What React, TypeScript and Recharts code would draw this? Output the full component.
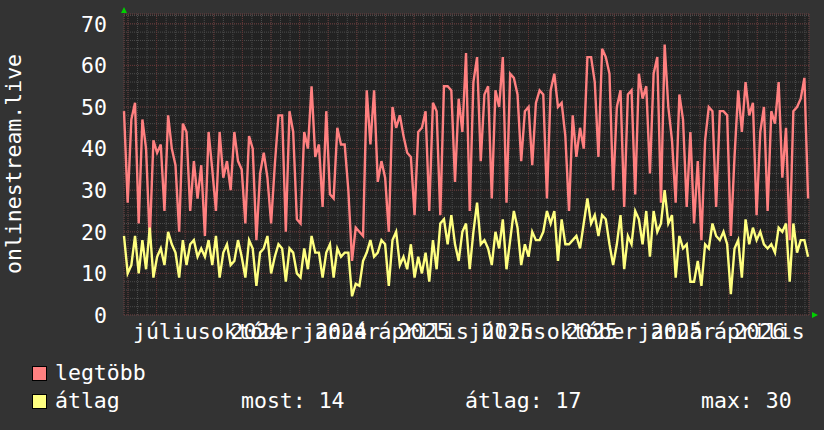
import React from 'react';
import { LineChart, Line, XAxis, YAxis, CartesianGrid } from 'recharts';

// one sample every 4 days, day 0 = left edge of the graph
const STEP_DAYS = 4;
const LAST_DAY = 745;

const legtobb = [
  49, 27, 47, 51, 22, 47, 40, 18, 42, 39, 41, 25, 48, 40, 36, 20, 46, 44, 25, 37,
  28, 36, 19, 44, 35, 25, 44, 33, 37, 30, 44, 37, 35, 22, 43, 40, 18, 34, 39, 33,
  22, 36, 48, 48, 20, 49, 44, 23, 22, 44, 40, 55, 38, 41, 26, 49, 29, 28, 45, 41,
  41, 30, 13, 21, 20, 19, 54, 41, 54, 32, 37, 33, 20, 50, 45, 48, 43, 39, 38, 24,
  44, 45, 49, 25, 51, 49, 24, 55, 55, 54, 32, 52, 44, 63, 25, 56, 62, 37, 53, 55,
  28, 54, 50, 62, 27, 58, 57, 53, 37, 49, 50, 36, 51, 54, 53, 28, 54, 58, 50, 51,
  43, 25, 48, 38, 45, 40, 62, 62, 56, 38, 64, 62, 58, 30, 50, 54, 26, 53, 54, 29,
  58, 52, 55, 34, 58, 62, 27, 65, 50, 42, 27, 53, 47, 26, 44, 22, 37, 18, 42, 50,
  49, 26, 49, 49, 48, 19, 38, 54, 44, 56, 48, 51, 24, 44, 50, 25, 49, 46, 56, 33,
  45, 18, 49, 50, 52, 57, 28,
];

const atlag = [
  19, 10, 12, 19, 10, 18, 11, 21, 9, 14, 16, 12, 20, 17, 15, 9, 18, 12, 17, 18,
  14, 16, 14, 18, 12, 19, 9, 15, 17, 12, 13, 18, 14, 9, 18, 16, 7, 15, 16, 19,
  10, 14, 17, 16, 8, 16, 15, 10, 9, 16, 11, 19, 15, 15, 9, 15, 17, 9, 16, 14,
  15, 15, 4.5, 7.5, 7, 13, 15, 18, 14, 15, 18, 17, 7, 18, 20, 12, 14, 11, 17, 9,
  14, 10, 15, 8, 18, 11, 22, 23, 17, 24, 17, 13, 20, 22, 11, 20, 27, 17, 18, 16,
  12, 20, 16, 23, 11, 18, 25, 21, 12, 17, 14, 20, 18, 18, 20, 25, 22, 25, 13, 23,
  17, 17, 18, 19, 16, 22, 28, 22, 24, 19, 24, 23, 17, 12, 17, 24, 11, 19, 17, 25,
  23, 17, 25, 14, 25, 20, 22, 30, 22, 24, 9, 19, 16, 17, 8, 8, 13, 7, 17, 16,
  22, 19, 18, 20, 17, 5, 16, 18, 9, 23, 17, 21, 18, 20, 17, 16, 17, 15, 21, 20,
  22, 8, 22, 15, 18, 18, 14,
];

const monthTicks = [52, 144, 236, 326, 417, 509, 601, 691];
const monthNames = ['július', 'október', 'január', 'április', 'július', 'október', 'január', 'április'];
const yearNames = ['', '2024', '2024', '2025', '2025', '2025', '2025', '2026'];

const yTicks = [0, 10, 20, 30, 40, 50, 60, 70];
const Y_MAX = 72.36;

const chartData = legtobb.map((v, i) => ({ day: i * STEP_DAYS, legtobb: v, atlag: atlag[i] }));

// grid helpers (styling only)
const minorY: number[] = [];
for (let v = 0; v <= 72; v += 2) minorY.push(v);
const minorX: number[] = [];
const majorX: number[] = [];
for (let k = 0; 4.35 + k * 10.37 < LAST_DAY; k++) {
  const d = 4.35 + k * 10.37;
  minorX.push(d);
  if (k % 3 === 0) majorX.push(d);
}

const FONT = '"DejaVu Sans Mono", monospace';
const FS = 21.5;

const MonthTick = (props: any) => {
  const { x, payload } = props;
  const idx = monthTicks.indexOf(payload.value);
  return (
    <g>
      <text x={x} y={339} textAnchor="middle" fill="#ffffff" fontFamily={FONT} fontSize={FS}>
        {monthNames[idx]}
      </text>
      {yearNames[idx] && (
        <text x={x} y={339} textAnchor="middle" fill="#ffffff" fontFamily={FONT} fontSize={FS}>
          {yearNames[idx]}
        </text>
      )}
    </g>
  );
};

const ValueTick = (props: any) => {
  const { y, payload } = props;
  return (
    <text x={107} y={y + 7.8} textAnchor="end" fill="#ffffff" fontFamily={FONT} fontSize={FS}>
      {payload.value}
    </text>
  );
};

const App = () => {
  return (
    <div style={{ position: 'fixed', left: 0, top: 0, width: 824, height: 430, background: '#333333' }}>
      <LineChart
        width={824}
        height={430}
        data={chartData}
        margin={{ top: 14, right: 15, bottom: 114, left: 123 }}
      >
        <XAxis xAxisId="minorX" type="number" dataKey="day" domain={[0, LAST_DAY]} ticks={minorX}
          interval={0} hide />
        <XAxis xAxisId="majorX" type="number" dataKey="day" domain={[0, LAST_DAY]} ticks={majorX}
          interval={0} hide />
        <YAxis yAxisId="minorY" type="number" domain={[0, Y_MAX]} ticks={minorY}
          interval={0} hide allowDataOverflow />
        <YAxis yAxisId="majorY" type="number" domain={[0, Y_MAX]} ticks={yTicks}
          interval={0} hide allowDataOverflow />
        <CartesianGrid xAxisId="minorX" yAxisId="minorY" fill="#222222" fillOpacity={1}
          stroke="#4c4c4c" strokeDasharray="1 1" />
        <CartesianGrid xAxisId="majorX" yAxisId="majorY" stroke="#643434" strokeDasharray="1 1" />
        <XAxis
          type="number"
          dataKey="day"
          domain={[0, LAST_DAY]}
          ticks={monthTicks}
          interval={0}
          height={1}
          axisLine={false}
          tickLine={false}
          tick={<MonthTick />}
        />
        <YAxis
          type="number"
          domain={[0, Y_MAX]}
          ticks={yTicks}
          interval={0}
          width={1}
          axisLine={false}
          tickLine={false}
          tick={<ValueTick />}
          allowDataOverflow
        />
        <Line type="linear" dataKey="legtobb" stroke="#ff8080" strokeWidth={2.4} dot={false}
          isAnimationActive={false} />
        <Line type="linear" dataKey="atlag" stroke="#ffff80" strokeWidth={2.4} dot={false}
          isAnimationActive={false} />
      </LineChart>
      <svg width={824} height={430} style={{ position: 'absolute', left: 0, top: 0, pointerEvents: 'none' }}>
        <polygon points="121,13 127,13 124,7" fill="#00d000" />
        <polygon points="812,312 812,318 818,315" fill="#00d000" />
        <text x={20.5} y={164} transform="rotate(-90, 20.5, 164)" textAnchor="middle" fill="#ffffff"
          fontFamily={FONT} fontSize={FS}>onlinestream.live</text>
        <rect x={32.5} y={366.5} width={14} height={14} fill="#ff8080" stroke="#000000" />
        <text x={55} y={380} fill="#ffffff" fontFamily={FONT} fontSize={FS}>legtöbb</text>
        <rect x={32.5} y={394.5} width={14} height={14} fill="#ffff80" stroke="#000000" />
        <text x={55} y={408} fill="#ffffff" fontFamily={FONT} fontSize={FS}>átlag</text>
        <text x={241} y={408} fill="#ffffff" fontFamily={FONT} fontSize={FS}>most: 14</text>
        <text x={465} y={408} fill="#ffffff" fontFamily={FONT} fontSize={FS}>átlag: 17</text>
        <text x={701} y={408} fill="#ffffff" fontFamily={FONT} fontSize={FS}>max: 30</text>
      </svg>
    </div>
  );
};

export default App;
